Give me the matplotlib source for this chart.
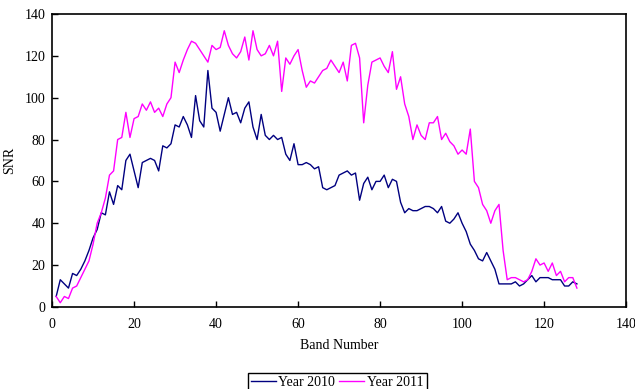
import numpy as np
import matplotlib
matplotlib.use('Agg')
from matplotlib import pyplot as plt

plt.rcParams['font.family'] = ['Liberation Serif', 'DejaVu Serif']

bands = np.arange(1, 129)

snr_2010 = [5, 13, 11, 9, 16, 15, 18, 22, 27, 33,
            37, 45, 44, 55, 49, 58, 56, 70, 73, 65,
            57, 69, 70, 71, 70, 65, 77, 76, 78, 87,
            86, 91, 87, 81, 101, 89, 86, 113, 95, 93,
            84, 92, 100, 92, 93, 88, 95, 98, 86, 80,
            92, 82, 80, 82, 80, 81, 73, 70, 78, 68,
            68, 69, 68, 66, 67, 57, 56, 57, 58, 63,
            64, 65, 63, 64, 51, 59, 62, 56, 60, 60,
            63, 57, 61, 60, 50, 45, 47, 46, 46, 47,
            48, 48, 47, 45, 48, 41, 40, 42, 45, 40,
            36, 30, 27, 23, 22, 26, 22, 18, 11, 11,
            11, 11, 12, 10, 11, 13, 15, 12, 14, 14,
            14, 13, 13, 13, 10, 10, 12, 11]

snr_2011 = [5, 2, 5, 4, 9, 10, 14, 18, 22, 30,
            40, 45, 52, 63, 65, 80, 81, 93, 81, 90,
            91, 97, 94, 98, 93, 95, 91, 97, 100, 117,
            112, 118, 123, 127, 126, 123, 120, 117, 125, 123,
            124, 132, 125, 121, 119, 122, 129, 118, 132, 123,
            120, 121, 125, 120, 127, 103, 119, 116, 120, 123,
            113, 105, 108, 107, 110, 113, 114, 118, 115, 112,
            117, 108, 125, 126, 119, 88, 106, 117, 118, 119,
            115, 112, 122, 104, 110, 97, 91, 80, 87, 82,
            80, 88, 88, 91, 80, 83, 79, 77, 73, 75,
            73, 85, 60, 57, 49, 46, 40, 46, 49, 27,
            13, 14, 14, 13, 12, 13, 17, 23, 20, 21,
            17, 21, 15, 17, 12, 14, 14, 9]

fig = plt.figure(figsize=(6.35, 3.89), dpi=100)
ax = fig.add_axes([0.082, 0.211, 0.904, 0.753])

ax.plot(bands, snr_2010, color='#000080', lw=1.0, label='Year 2010')
ax.plot(bands, snr_2011, color='#FF00FF', lw=1.0, label='Year 2011')

ax.set_xlim(0, 140)
ax.set_ylim(0, 140)
ax.set_xticks(np.arange(0, 141, 20))
ax.set_yticks(np.arange(0, 141, 20))
ax.tick_params(direction='in', length=4, width=1, labelsize=10)
ax.tick_params(axis='x', pad=8)
ax.tick_params(axis='y', pad=5)
for s in ax.spines.values():
    s.set_linewidth(1.2)

ax.set_xlabel('Band Number', fontsize=10, labelpad=6)
ax.set_ylabel('SNR', fontsize=10, labelpad=6)

fig.legend(loc='upper center', bbox_to_anchor=(0.531, 0.058), ncol=2,
           fancybox=False, edgecolor='black', framealpha=1, fontsize=10,
           handlelength=1.8, handletextpad=0.2, columnspacing=0.3,
           borderpad=0.2)

fig.savefig('out.png', dpi=100)
